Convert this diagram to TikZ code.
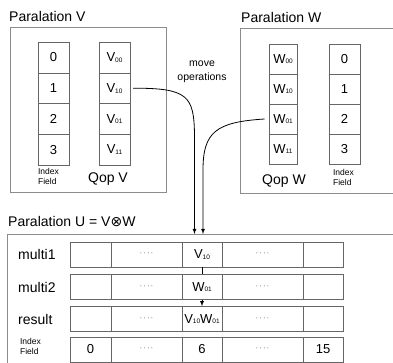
\documentclass[tikz,border=0pt]{standalone}
\usepackage{fontspec}
\setmainfont{Liberation Sans}
\newfontfamily\symfont{DejaVu Sans}
\newcommand{\lowidx}[1]{\raisebox{-0.8pt}{\fontsize{6.5}{6.5}\selectfont#1}}
\newcommand{\fourdots}{\textcolor{black!60}{\fontsize{8}{8}\selectfont·\hspace{1pt}·\hspace{1pt}·\hspace{1pt}·}}
\tikzset{
  cellbox/.style={draw=black!60,minimum width=31pt,minimum height=30.7pt,inner sep=0pt,font=\fontsize{13}{15}\selectfont},
  ucell/.style={draw=black!60,minimum height=25pt,inner sep=0pt,font=\fontsize{13}{15}\selectfont},
  frame/.style={draw=black!45},
  title/.style={anchor=west,inner sep=0pt,font=\fontsize{14}{16}\selectfont},
  small/.style={align=left,inner sep=0pt,font=\fontsize{8.5}{10}\selectfont},
}

\begin{document}
\begin{tikzpicture}[x=1pt,y=-1pt,>=latex]
\clip (0,0) rectangle (393,362);
% Paralation V
\node[title] (tv) at (9,16) {Paralation V};
\draw[frame] (10,27) rectangle (166,192);
\foreach \n/\s/\y in {0/00/57.5,1/10/88.2,2/01/119,3/11/149.6}{
  \node[cellbox] (v\n) at (53.5,\y) {\n};
  \node[cellbox] (qv\n) at (114.5,\y) {V\lowidx{\s}};
}
\node[small] (fv) at (48.5,176) {Index\\Field};
\node[title,anchor=center] (nv) at (108,179) {Qop V};

% Paralation W
\node[title] (tw) at (241,17) {Paralation W};
\draw[frame] (240,28) rectangle (400,193);
\foreach \n/\s/\y in {0/00/59,1/10/89,2/01/119,3/11/149}{
  \node[cellbox,minimum width=28.5pt,minimum height=30pt] (qw\n) at (283,\y) {W\lowidx{\s}};
  \node[cellbox,minimum height=30pt] (w\n) at (344.5,\y) {\n};
}
\node[title,anchor=center] (nw) at (284,181) {Qop W};
\node[small] (fw) at (343.5,177) {Index\\Field};

\node[align=center,inner sep=0pt,font=\fontsize{10.5}{14}\selectfont] (mo) at (202,72) {move\\operations};

% Paralation U
\node[title] (tu) at (8,222) {Paralation U = V{\symfont ⊗}W};
\draw[frame] (7,234) rectangle (400,380);
\foreach \row/\y/\lab in {m1/254.5/multi1,m2/287/multi2,res/319/result,idx/349.5/{}}{
  \node[title] (\row-l) at (18,\y) {\lab};
  \foreach \c/\x/\w/\t in {1/90.5/41/{},2/146.5/71/\fourdots,3/202/40/{},4/262.5/81/\fourdots,5/323/40/{}}{
    \node[ucell,minimum width=\w pt] (\row-\c) at (\x,\y) {\t};
  }
}
\node[small] (fu) at (30.5,346) {Index\\Field};
\node[font=\fontsize{13}{15}\selectfont] at (m1-3) {V\lowidx{10}};
\node[font=\fontsize{13}{15}\selectfont] at (m2-3) {W\lowidx{01}};
\node[font=\fontsize{13}{15}\selectfont] at (res-3) {V\lowidx{10}W\lowidx{01}};
\node[font=\fontsize{13}{15}\selectfont] at (idx-1) {0};
\node[font=\fontsize{13}{15}\selectfont] at (idx-3) {6};
\node[font=\fontsize{13}{15}\selectfont] at (idx-5) {15};

% move operations
\coordinate (in1) at (194.5,234);
\coordinate (in2) at (203,234);
\draw[->,line width=0.8pt] ([xshift=3pt]qv1.east) .. controls (188,88) and (194,96) .. (194.5,135) -- (in1);
\draw[->,line width=0.8pt] ([xshift=-4pt]qw2.west) .. controls (216,122) and (203,132) .. (203,170) -- (in2);
\draw[line width=0.8pt] (m1-3.south) -- (m2-3.north);
\draw[->,line width=0.8pt] (m2-3.south) -- (res-3.north);
\end{tikzpicture}
\end{document}
